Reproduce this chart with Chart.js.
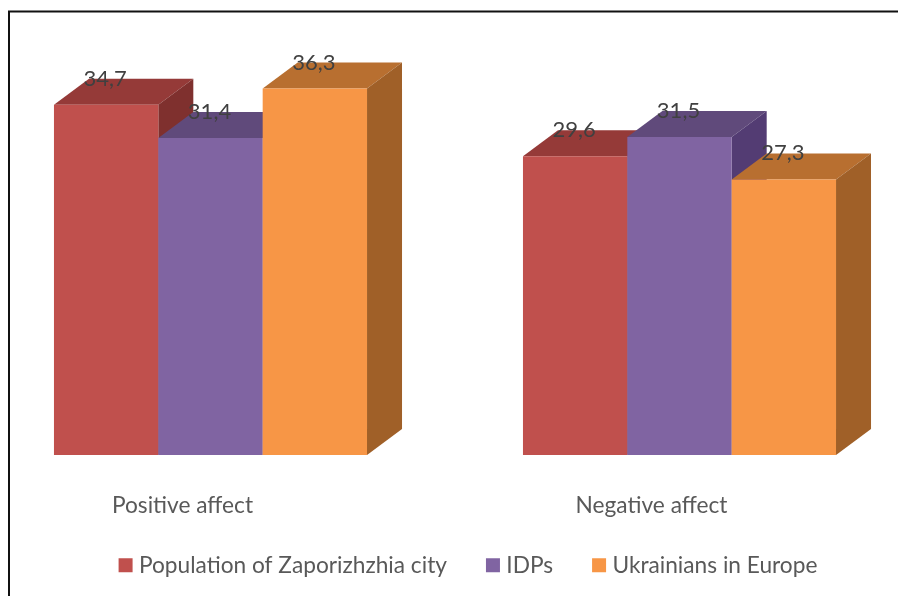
<!DOCTYPE html>
<html>
<head>
<meta charset="utf-8">
<style>html,body{margin:0;padding:0;background:#fff;overflow:hidden}canvas{display:block}</style>
<script src="https://cdn.jsdelivr.net/npm/chart.js@4"></script>
</head>
<body>
<canvas id="c" width="898" height="596"></canvas>
<script>
const categories = ['Positive affect', 'Negative affect'];
const seriesNames = ['Population of Zaporizhzhia city', 'IDPs', 'Ukrainians in Europe'];
const population = [34.7, 29.6];
const idps = [31.4, 31.5];
const ukrainians = [36.3, 27.3];
const frontColors = ['#C0504D', '#8064A2', '#F79646'];
const topColors = ['#953A38', '#604A7B', '#B86F30'];
const sideColors = ['#7F302E', '#533C73', '#A06028'];
const depthX = 35, depthY = 26;
const fontFamily = 'Lato';

const fmt = v => String(v).replace('.', ',');

const bars3d = {
  id: 'bars3d',
  afterLayout(chart) {
    const lg = chart.legend;
    lg.top = 510; lg.bottom = lg.top + lg.height;
    lg.left += 21.5; lg.right += 21.5;
  },
  beforeDraw(chart) {
    const c = chart.ctx;
    c.save();
    c.fillStyle = '#fff'; c.fillRect(0, 0, chart.width, chart.height);
    c.strokeStyle = '#111'; c.lineWidth = 2;
    c.strokeRect(9, 11.5, 900, 600);
    c.restore();
  },
  beforeDatasetDraw() { return false; },
  afterDatasetsDraw(chart) {
    const c = chart.ctx;
    const y0 = chart.scales.y.getPixelForValue(0);
    for (let i = 0; i < categories.length; i++) {
      chart.data.datasets.forEach((ds, d) => {
        const el = chart.getDatasetMeta(d).data[i];
        const l = el.x - el.width / 2, r = el.x + el.width / 2, t = el.y;
        c.fillStyle = topColors[d];
        c.beginPath(); c.moveTo(l, t); c.lineTo(l + depthX, t - depthY); c.lineTo(r + depthX, t - depthY); c.lineTo(r, t); c.closePath(); c.fill();
        c.fillStyle = sideColors[d];
        c.beginPath(); c.moveTo(r, t); c.lineTo(r + depthX, t - depthY); c.lineTo(r + depthX, y0 - depthY); c.lineTo(r, y0); c.closePath(); c.fill();
        el.draw(c);
      });
    }
    chart.data.datasets.forEach((ds, d) => {
      chart.getDatasetMeta(d).data.forEach((el, i) => {
        c.save();
        c.fillStyle = '#404040';
        c.font = '22px ' + fontFamily;
        c.textAlign = 'center'; c.textBaseline = 'middle';
        c.fillText(fmt(ds.data[i].y), el.x - 1, el.y - 26);
        c.restore();
      });
    });
  }
};

const rows = [population, idps, ukrainians];
new Chart(document.getElementById('c'), {
  type: 'bar',
  data: {
    datasets: seriesNames.map((name, d) => ({
      label: name,
      data: rows[d].map((v, i) => ({ x: i, y: v })),
      backgroundColor: frontColors[d],
      borderWidth: 0,
      barPercentage: 1,
      categoryPercentage: 0.6675
    }))
  },
  plugins: [bars3d],
  options: {
    responsive: false,
    animation: false,
    layout: { padding: { top: 31, bottom: -5.7, left: 0, right: 0 } },
    scales: {
      x: {
        type: 'linear',
        offset: false,
        min: -210.5 / 469,
        max: (898 - 210.5) / 469,
        afterBuildTicks(s) { s.ticks = categories.map((_, i) => ({ value: i })); },
        afterFit(s) { s.height = 70; },
        grid: { display: false },
        border: { display: false },
        ticks: {
          autoSkip: false, maxRotation: 0,
          padding: 31.5,
          labelOffset: -28,
          color: '#595959',
          font: { family: fontFamily, size: 22.7, lineHeight: 1 },
          callback: v => categories[v]
        }
      },
      y: { display: false, min: 0, max: 42 }
    },
    plugins: {
      tooltip: { enabled: false },
      legend: {
        position: 'bottom',
        labels: {
          boxWidth: 4, boxHeight: 4, padding: 44,
          color: '#595959',
          font: { family: fontFamily, size: 22.7, lineHeight: 1 },
          generateLabels: () => seriesNames.map((n, d) => ({
            text: n, fillStyle: frontColors[d], strokeStyle: frontColors[d],
            lineWidth: 10, datasetIndex: d, hidden: false, fontColor: '#595959'
          }))
        }
      }
    }
  }
});
</script>
</body>
</html>
